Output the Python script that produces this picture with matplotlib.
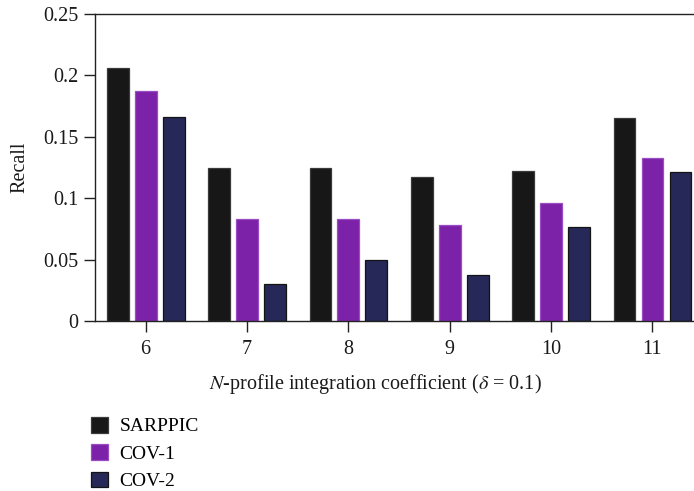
import matplotlib
matplotlib.use("Agg")
import matplotlib.pyplot as plt
import numpy as np

plt.rcParams["font.family"] = ["Liberation Serif", "DejaVu Serif"]
plt.rcParams["mathtext.fontset"] = "stix"

# data
coefficients = [6, 7, 8, 9, 10, 11]
series_names = ["SARPPIC", "COV-1", "COV-2"]
sarppic = [0.206, 0.125, 0.125, 0.1175, 0.122, 0.1655]
cov1 = [0.187, 0.083, 0.083, 0.078, 0.096, 0.1325]
cov2 = [0.166, 0.030, 0.050, 0.0375, 0.0765, 0.121]
y_ticks = [0, 0.05, 0.1, 0.15, 0.2, 0.25]
y_tick_labels = ["0", "0.05", "0.1", "0.15", "0.2", "0.25"]

colors = ["#171717", "#7b22a8", "#262858"]
edges = ["#3a3a3a", "#9a4cc4", "#141414"]

fig = plt.figure(figsize=(6.94, 4.91), dpi=100)
ax = fig.add_axes([0.1369, 0.3462, 0.8631, 0.6253])

x = np.array(coefficients, dtype=float)
width = 0.215
step = 0.276
handles = []
for i, (vals, c, ec) in enumerate(zip([sarppic, cov1, cov2], colors, edges)):
    h = ax.bar(x + (i - 1) * step, vals, width=width, color=c, edgecolor=ec,
               linewidth=0.9, label=series_names[i], zorder=2)
    handles.append(h)

ax.set_xlim(5.5, 11.41)
ax.set_ylim(0, 0.25)
ax.set_xticks(coefficients)
ax.set_xticklabels([str(c) for c in coefficients])
ax.set_yticks(y_ticks)
ax.set_yticklabels(y_tick_labels)

for side in ["left", "top", "bottom"]:
    ax.spines[side].set_color("#222222")
    ax.spines[side].set_linewidth(1.0)
ax.spines["right"].set_visible(False)
ax.tick_params(axis="both", direction="out", length=8, width=1.0,
               colors="#222222", labelsize=14.5, labelcolor="#1a1a1a")
ax.tick_params(axis="x", pad=6)
ax.tick_params(axis="y", pad=4)

ax.set_ylabel("Recall", fontsize=14.5, color="#1a1a1a", labelpad=10)
ax.set_xlabel(r"$\mathit{N}$-profile integration coefficient ($\mathit{\delta}$ = 0.1)",
              fontsize=14.5, color="#1a1a1a", labelpad=8)
# the source axis runs past the right edge, so the label sits left of centre
ax.xaxis.set_label_coords(0.468, -0.165)

fig.legend(handles=handles, labels=series_names, loc="upper left",
           bbox_to_anchor=(0.131, 0.151), frameon=False, fontsize=14,
           handlelength=0.87, handleheight=0.87, handletextpad=0.6,
           labelspacing=0.45, borderaxespad=0, borderpad=0)

fig.savefig("out.png", dpi=100)
